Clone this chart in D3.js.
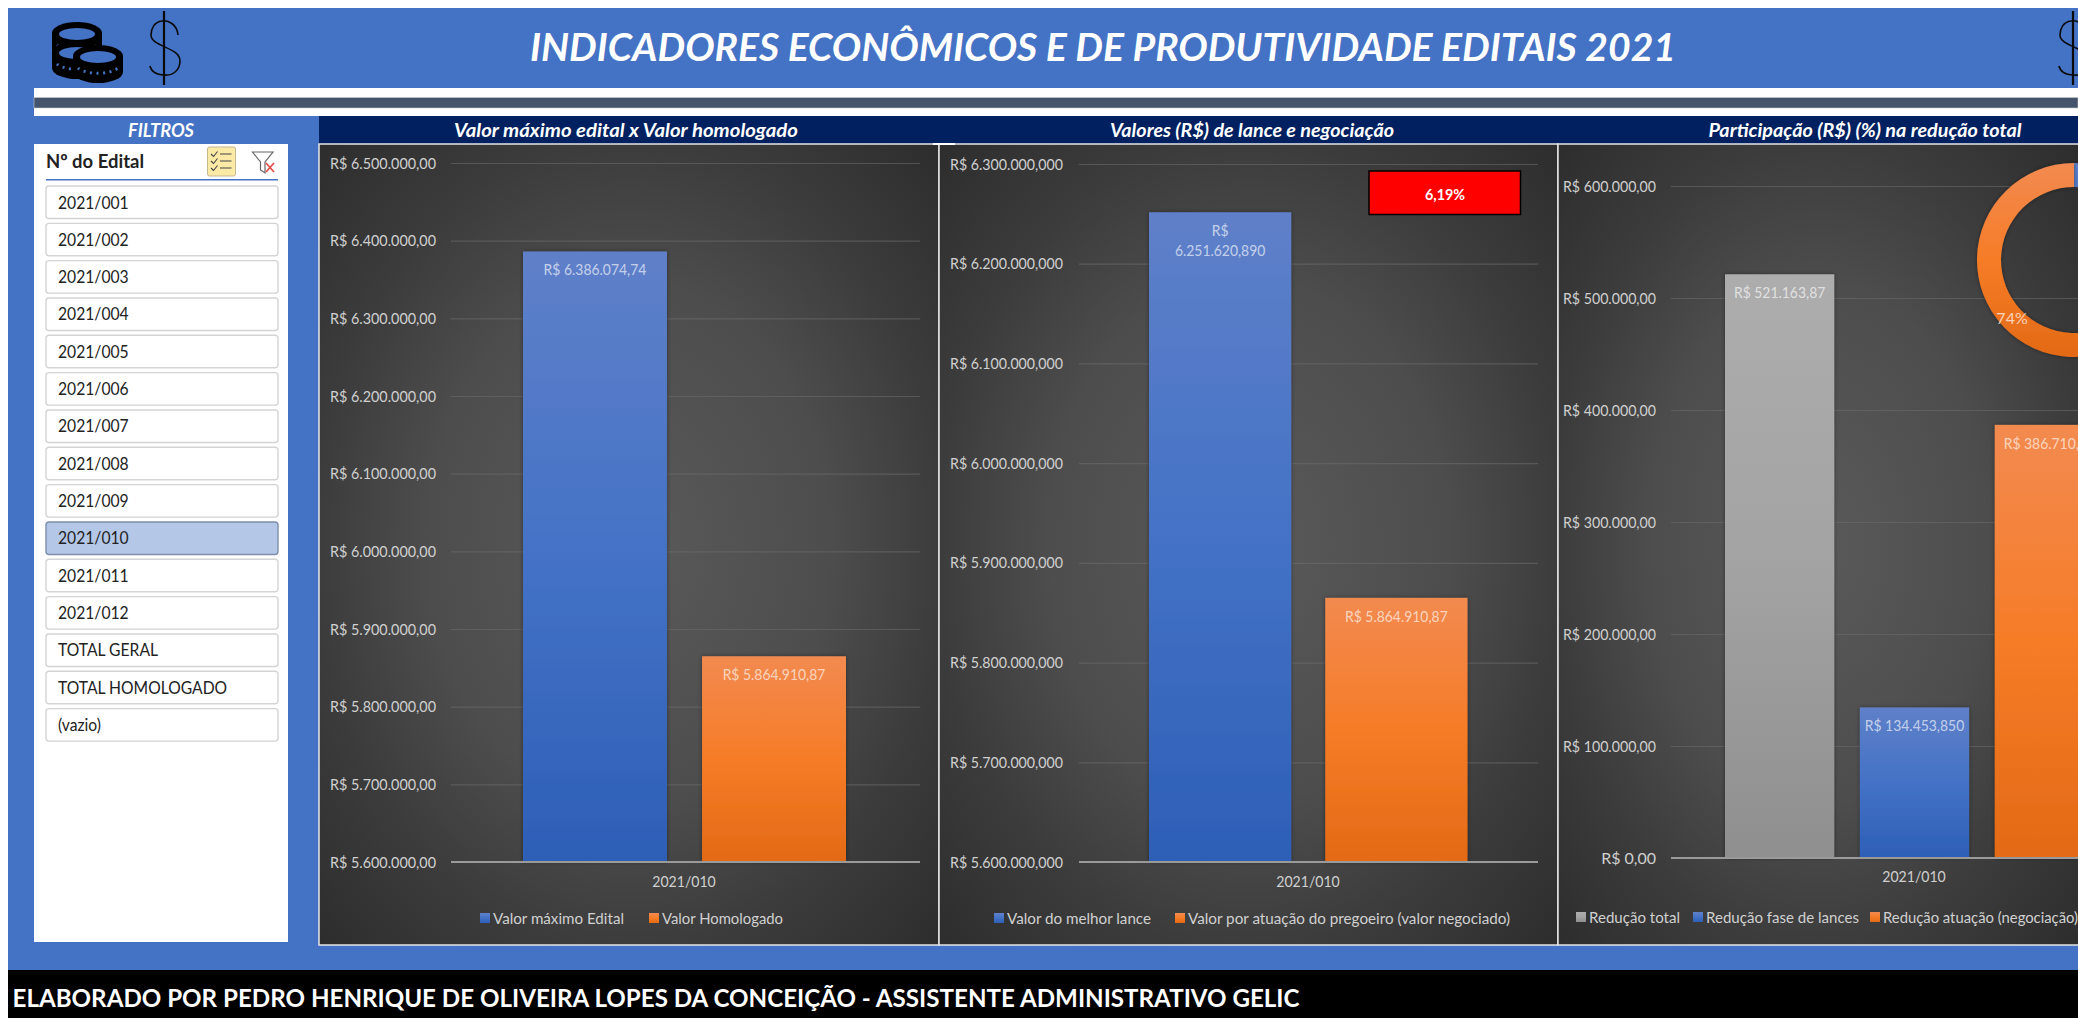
<!DOCTYPE html>
<html>
<head>
<meta charset="utf-8">
<script src="https://cdn.jsdelivr.net/npm/d3@7"></script>
<style>
html, body { margin: 0; padding: 0; background: #fff; overflow: hidden; }
svg { display: block; filter: blur(0.4px); }
text { font-family: Lato, Carlito, "Open Sans", sans-serif; }
</style>
</head>
<body>
<svg id="dash" width="2078" height="1018"></svg>
<script>
var editais = ["2021/001","2021/002","2021/003","2021/004","2021/005","2021/006","2021/007","2021/008","2021/009","2021/010","2021/011","2021/012","TOTAL GERAL","TOTAL HOMOLOGADO","(vazio)"];
var editalSelecionado = "2021/010";

var series1 = ["Valor máximo Edital","Valor Homologado"];
var values1 = [6386074.74, 5864910.87];
var labels1 = [["R$ 6.386.074,74"],["R$ 5.864.910,87"]];
var ticks1 = [5600000,5700000,5800000,5900000,6000000,6100000,6200000,6300000,6400000,6500000];

var series2 = ["Valor do melhor lance","Valor por atuação do pregoeiro (valor negociado)"];
var values2 = [6251620.89, 5864910.87];
var labels2 = [["R$","6.251.620,890"],["R$ 5.864.910,87"]];
var ticks2 = [5600000,5700000,5800000,5900000,6000000,6100000,6200000,6300000];

var series3 = ["Redução total","Redução fase de lances","Redução atuação (negociação)"];
var values3 = [521163.87, 134453.85, 386710.02];
var labels3 = [["R$ 521.163,87"],["R$ 134.453,850"],["R$ 386.710,02"]];
var ticks3 = [0,100000,200000,300000,400000,500000,600000];

var donutNames = ["Redução fase de lances","Redução atuação (negociação)"];
var donutValues = [26, 74];

var categoria = "2021/010";
var percentual = "6,19%";

var locale = d3.formatLocale({decimal: ",", thousands: ".", grouping: [3], currency: ["R$ ", ""]});

var svg = d3.select("#dash");
var defs = svg.append("defs");

function vgrad(id, stops) {
	var g = defs.append("linearGradient").attr("id", id)
		.attr("x1", 0).attr("y1", 0).attr("x2", 0).attr("y2", 1);
	stops.forEach(function(s){
		g.append("stop").attr("offset", s[0]).attr("stop-color", s[1]);
	});
}
vgrad("gBlue", [[0, "#5f80c9"], [0.5, "#4472c6"], [1, "#2d5fb7"]]);
vgrad("gOrange", [[0, "#f28a50"], [0.5, "#f67c27"], [1, "#e36a15"]]);
vgrad("gGray", [[0, "#adadad"], [0.5, "#a3a3a3"], [1, "#8f8f8f"]]);

var bgGrad = defs.append("radialGradient").attr("id", "gBg")
	.attr("cx", 0.5).attr("cy", 0.5).attr("r", 0.72);
[[0, "#5a5a5a"], [0.45, "#4d4d4d"], [0.7, "#3c3c3c"], [1, "#2c2c2c"]].forEach(function(s){
	bgGrad.append("stop").attr("offset", s[0]).attr("stop-color", s[1]);
});

var shadow = defs.append("filter").attr("id", "fShadow")
	.attr("x", "-10%").attr("y", "-10%").attr("width", "120%").attr("height", "120%");
shadow.append("feDropShadow").attr("dx", 0).attr("dy", 0).attr("stdDeviation", 2)
	.attr("flood-color", "#000").attr("flood-opacity", 0.4);

var fillBlue = "url(#gBlue)", fillOrange = "url(#gOrange)", fillGray = "url(#gGray)";

// aperta o texto como a Calibri do original
function squeeze(sel, k) {
	sel.each(function(){
		d3.select(this).attr("textLength", this.getComputedTextLength() * k)
			.attr("lengthAdjust", "spacingAndGlyphs");
	});
}

// fundo geral
svg.append("rect").attr("x", 8).attr("y", 8).attr("width", 2070).attr("height", 962).attr("fill", "#4472c4");
svg.append("rect").attr("x", 8).attr("y", 970).attr("width", 2070).attr("height", 48).attr("fill", "#000");
svg.append("rect").attr("x", 34).attr("y", 88).attr("width", 2044).attr("height", 28).attr("fill", "#fff");
svg.append("rect").attr("x", 34).attr("y", 97.5).attr("width", 2044).attr("height", 10.5)
	.attr("fill", "#44546a").attr("stroke", "#c8c8c8").attr("stroke-width", 0.6);

function txt(x, y, s, size, color, opts) {
	opts = opts || {};
	var t = svg.append("text").attr("x", x).attr("y", y).text(s)
		.attr("font-size", size).attr("fill", color)
		.attr("text-anchor", opts.anchor || "start");
	if (opts.bold) t.attr("font-weight", 700);
	if (opts.italic) t.attr("font-style", "italic");
	if (opts.width) t.attr("textLength", opts.width).attr("lengthAdjust", "spacingAndGlyphs");
	return t;
}

txt(1103, 61, "INDICADORES ECONÔMICOS E DE PRODUTIVIDADE EDITAIS 2021", 39, "#fff", {anchor: "middle", bold: true, italic: true, width: 1146});
txt(12.5, 1007, "ELABORADO POR PEDRO HENRIQUE DE OLIVEIRA LOPES DA CONCEIÇÃO - ASSISTENTE ADMINISTRATIVO GELIC", 25, "#fff", {bold: true, width: 1287});

// icones
function dollar(dx) {
	var g = svg.append("g").attr("transform", "translate(" + dx + ",0)")
		.attr("fill", "none").attr("stroke", "#0a0a0a");
	g.append("path").attr("d", "M164 11V85").attr("stroke-width", 2.2);
	g.append("path").attr("stroke-width", 1.6)
		.attr("d", "M178 35C177 24 168 20 162 21C154 22 151 29 151 35C151 47 180 47 180 61C180 70 173 76 164 75C156 75 151 71 150 66");
}
dollar(0);
dollar(1909);

function coin(cx, cy) {
	var g = svg.append("g");
	g.append("path").attr("fill", "#000")
		.attr("d", "M" + (cx - 25) + " " + cy + "A25 11 0 0 1 " + (cx + 25) + " " + cy + "V" + (cy + 16) + "A25 11 0 0 1 " + (cx - 25) + " " + (cy + 16) + "Z");
	g.append("ellipse").attr("cx", cx).attr("cy", cy + 1).attr("rx", 18).attr("ry", 6).attr("fill", "#4472c4");
	g.append("path").attr("fill", "none").attr("stroke", "#4472c4").attr("stroke-width", 3).attr("stroke-dasharray", "2 4.5")
		.attr("d", "M" + (cx - 20) + " " + (cy + 12) + "A22 9 0 0 0 " + (cx + 20) + " " + (cy + 12));
}
coin(77, 33);
coin(77, 52);
coin(98, 56);

// painel de filtros
txt(161, 137, "FILTROS", 18, "#fff", {anchor: "middle", bold: true, italic: true, width: 66});
svg.append("rect").attr("x", 34).attr("y", 144).attr("width", 254).attr("height", 798).attr("fill", "#fff");
txt(46, 168, "Nº do Edital", 19, "#222", {bold: true, width: 98});
svg.append("rect").attr("x", 46).attr("y", 179).attr("width", 232).attr("height", 1.5).attr("fill", "#4472c4");

svg.append("rect").attr("x", 207.5).attr("y", 147).attr("width", 28).attr("height", 29).attr("rx", 2)
	.attr("fill", "#fbe9a6").attr("stroke", "#c4b98f");
[154, 161, 168].forEach(function(y){
	svg.append("path").attr("fill", "none").attr("stroke", "#444").attr("stroke-width", 1.1)
		.attr("d", "M211 " + y + "l2.5 2.5l4 -5M220 " + y + "h11.5");
});
svg.append("path").attr("fill", "none").attr("stroke", "#666").attr("stroke-width", 1.2)
	.attr("d", "M252.5 152H273L265 162V173L260.5 170V162Z");
svg.append("path").attr("fill", "none").attr("stroke", "#e2504c").attr("stroke-width", 1.8)
	.attr("d", "M266 163L274 172M274 163L266 172");

var slicerY = d3.scaleBand().domain(editais).range([186, 186 + 37.33 * (editais.length - 0.13)]).paddingInner(0.13).paddingOuter(0);
svg.append("g").selectAll("rect").data(editais).enter().append("rect")
	.attr("x", 46).attr("width", 232)
	.attr("y", function(d){ return slicerY(d); })
	.attr("height", slicerY.bandwidth()).attr("rx", 3)
	.attr("fill", function(d){ return d == editalSelecionado ? "#b4c7e7" : "#fff"; })
	.attr("stroke", function(d){ return d == editalSelecionado ? "#7f8fa9" : "#d4d4d4"; })
	.attr("stroke-width", 1.4);
svg.append("g").selectAll("text").data(editais).enter().append("text")
	.attr("x", 58).attr("y", function(d){ return slicerY(d) + 22.5; })
	.attr("font-size", 18).attr("fill", "#222")
	.text(function(d){ return d; })
	.call(squeeze, 0.87);

// faixa de titulos
svg.append("rect").attr("x", 319).attr("y", 116).attr("width", 1759).attr("height", 28).attr("fill", "#002060");
txt(626, 137, "Valor máximo edital x Valor homologado", 18, "#fff", {anchor: "middle", bold: true, italic: true, width: 344});
txt(1252, 137, "Valores (R$) de lance e negociação", 18, "#fff", {anchor: "middle", bold: true, italic: true, width: 284});
txt(1865, 137, "Participação (R$) (%) na redução total", 18, "#fff", {anchor: "middle", bold: true, italic: true, width: 313});

function drawChart(o) {
	var g = svg.append("g");
	g.append("rect").attr("x", o.left).attr("y", 144).attr("width", o.right - o.left).attr("height", 801)
		.attr("fill", "url(#gBg)").attr("stroke", "#e6e6e6").attr("stroke-width", 1.5);

	var y = d3.scaleLinear().domain(o.domain).range(o.yRange);
	var x = d3.scaleBand().domain(o.series).range(o.xRange).paddingInner(o.pad).paddingOuter(0);

	var axis = d3.axisLeft(y).tickValues(o.ticks).tickFormat(locale.format(o.tickFormat))
		.tickSize(o.gridEnd - o.gridStart).tickPadding(0);
	var ax = g.append("g").attr("transform", "translate(" + o.gridEnd + ",0)").call(axis);
	ax.select(".domain").remove();
	ax.selectAll("line").attr("stroke", "#6a6a6a").attr("stroke-width", 1.2).attr("stroke-opacity", 0.6);
	ax.selectAll("text")
		.attr("x", o.tickRight - o.gridEnd)
		.attr("text-anchor", "end")
		.attr("font-family", "Lato").attr("font-size", 16).attr("fill", "#d0d0d0")
		.attr("textLength", o.tickWidth).attr("lengthAdjust", "spacingAndGlyphs");
	ax.selectAll("text").filter(function(d){ return d == 0; }).attr("textLength", null);

	g.selectAll("rect.bar").data(o.series).enter().append("rect").attr("class", "bar")
		.attr("x", function(d){ return x(d); })
		.attr("width", x.bandwidth())
		.attr("y", function(d, i){ return y(o.values[i]); })
		.attr("height", function(d, i){ return y(o.domain[0]) - y(o.values[i]); })
		.attr("fill", function(d, i){ return o.fills[i]; })
		.attr("filter", "url(#fShadow)");

	g.append("line").attr("x1", o.gridStart).attr("x2", o.gridEnd)
		.attr("y1", y(o.domain[0])).attr("y2", y(o.domain[0]))
		.attr("stroke", "#9a9a9a").attr("stroke-width", 2);

	o.series.forEach(function(d, i){
		o.labels[i].forEach(function(line, k){
			g.append("text").text(line)
				.attr("x", x(d) + x.bandwidth() / 2)
				.attr("y", y(o.values[i]) + 24 + k * 20)
				.attr("text-anchor", "middle").attr("font-size", 16)
				.attr("fill", "#fff").attr("fill-opacity", 0.65)
				.call(squeeze, 0.87);
		});
	});

	g.append("text").text(categoria)
		.attr("x", o.catX).attr("y", o.catY)
		.attr("text-anchor", "middle").attr("font-size", 16).attr("fill", "#d0d0d0")
		.call(squeeze, 0.88);

	o.series.forEach(function(d, i){
		g.append("rect").attr("x", o.legendX[i]).attr("y", o.legendY - 5).attr("width", 10).attr("height", 10)
			.attr("fill", o.fills[i]);
		g.append("text").text(d)
			.attr("x", o.legendX[i] + 13).attr("y", o.legendY + 5.5)
			.attr("font-size", 16).attr("fill", "#d0d0d0")
			.attr("textLength", o.legendW[i]).attr("lengthAdjust", "spacingAndGlyphs");
	});
	return g;
}

drawChart({
	left: 319, right: 939, series: series1, values: values1, labels: labels1, ticks: ticks1,
	domain: [5600000, 6500000], yRange: [862, 163], xRange: [523, 846], pad: 0.196,
	tickFormat: "$,.2f", gridStart: 451, gridEnd: 920, tickRight: 436, tickWidth: 106,
	fills: [fillBlue, fillOrange], catX: 684, catY: 887,
	legendX: [480, 649], legendW: [131, 121], legendY: 918
});

drawChart({
	left: 939, right: 1558, series: series2, values: values2, labels: labels2, ticks: ticks2,
	domain: [5600000, 6300000], yRange: [862, 164], xRange: [1149, 1467.5], pad: 0.193,
	tickFormat: "$,.3f", gridStart: 1079, gridEnd: 1538, tickRight: 1063, tickWidth: 113,
	fills: [fillBlue, fillOrange], catX: 1308, catY: 887,
	legendX: [994, 1175], legendW: [144, 322], legendY: 918
});

var c3 = drawChart({
	left: 1558, right: 2079, series: series3, values: values3, labels: labels3, ticks: ticks3,
	domain: [0, 600000], yRange: [858, 186], xRange: [1725, 2104], pad: 0.19,
	tickFormat: "$,.2f", gridStart: 1671, gridEnd: 2078, tickRight: 1656, tickWidth: 93,
	fills: [fillGray, fillBlue, fillOrange], catX: 1914, catY: 882,
	legendX: [1576, 1693, 1870], legendW: [91, 153, 195], legendY: 917
});

// rosca
var pie = d3.pie().sort(null).value(function(d){ return d; });
var arc = d3.arc().innerRadius(73).outerRadius(97);
var donut = c3.append("g").attr("transform", "translate(2074,260)");
donut.selectAll("path").data(pie(donutValues)).enter().append("path")
	.attr("d", arc)
	.attr("fill", function(d, i){ return i == 0 ? fillBlue : fillOrange; })
	.attr("filter", "url(#fShadow)");
donut.selectAll("text").data(pie(donutValues)).enter().append("text")
	.attr("transform", function(d){ return "translate(" + arc.centroid(d) + ")"; })
	.attr("dy", "0.35em").attr("text-anchor", "middle")
	.attr("font-size", 16).attr("fill", "#fff").attr("fill-opacity", 0.7)
	.text(function(d){ return d.data + "%"; });

// caixa vermelha
svg.append("rect").attr("x", 1369).attr("y", 171).attr("width", 151.5).attr("height", 43.5)
	.attr("fill", "#ff0000").attr("stroke", "#000").attr("stroke-width", 1.5);
txt(1445, 199.5, percentual, 16, "#fff", {anchor: "middle", bold: true, width: 40});

// marquinha branca entre os graficos
svg.append("rect").attr("x", 933).attr("y", 143).attr("width", 22).attr("height", 2).attr("fill", "#fff");
</script>
</body>
</html>
